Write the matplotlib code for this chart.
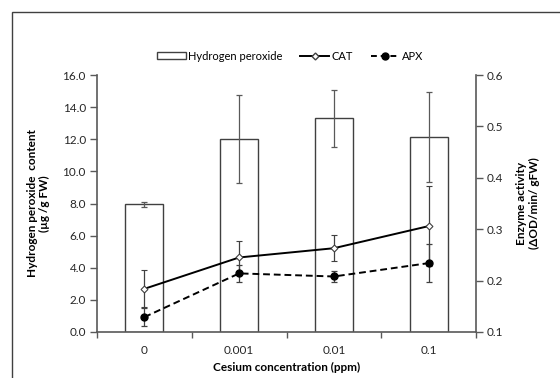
# Import modules
import numpy as np
import matplotlib.pyplot as plt
from matplotlib.patches import Rectangle
from matplotlib.lines import Line2D
from matplotlib.ticker import FormatStrFormatter, FixedLocator

plt.rcParams['font.family'] = ['Lato', 'DejaVu Sans']

# Data
concentrations = ['0', '0.001', '0.01', '0.1']
h2o2 = [7.95, 12.0, 13.3, 12.15]
h2o2_err = [0.15, 2.75, 1.78, 2.8]
cat = [0.184, 0.245, 0.263, 0.306]
cat_err = [0.036, 0.033, 0.025, 0.078]
apx = [0.129, 0.214, 0.208, 0.234]
apx_err = [0.018, 0.017, 0.011, 0.037]

axis_col = '#595959'
fs = 8
lfs = 8.5

fig = plt.figure(figsize=(5.6, 3.78), dpi=100)
ax = fig.add_axes([97/560, 1 - 332/378, 379/560, 257/378])
x = np.arange(len(concentrations))

# Bars (hydrogen peroxide)
ax.bar(x, h2o2, width=0.4, color='white', edgecolor='#404040', linewidth=1.0, zorder=2)
ax.errorbar(x, h2o2, yerr=h2o2_err, fmt='none', ecolor='#595959', elinewidth=0.9,
            capsize=2.5, capthick=0.9, zorder=3)

ax.set_xlim(-0.5, 3.5)
ax.set_ylim(0, 16)
ax.set_yticks(np.arange(0, 16.1, 2))
ax.yaxis.set_major_formatter(FormatStrFormatter('%.1f'))
ax.set_xticks(x)
ax.set_xticklabels(concentrations)
ax.xaxis.set_minor_locator(FixedLocator(np.arange(-0.5, 3.6, 1)))
ax.tick_params(axis='x', which='major', length=0, pad=9, labelsize=lfs, colors='#262626')
ax.tick_params(axis='x', which='minor', length=4, width=1, color=axis_col, direction='out')
ax.tick_params(axis='y', which='major', length=5, width=1, color=axis_col, labelsize=lfs,
               labelcolor='#262626', pad=3)
for s in ['top', 'right']:
    ax.spines[s].set_visible(False)
for s in ['left', 'bottom']:
    ax.spines[s].set_color(axis_col)
    ax.spines[s].set_linewidth(1.2)

ax.set_xlabel('Cesium concentration (ppm)', fontsize=lfs, fontweight='bold', labelpad=5)
ax.set_ylabel('Hydrogen peroxide  content\n(µg /g FW)', fontsize=lfs, fontweight='bold',
              labelpad=9, linespacing=1.15)

# Enzyme activity on the right axis
ax2 = ax.twinx()
ax2.errorbar(x, cat, yerr=cat_err, color='black', linewidth=1.4, marker='D', markersize=3.5,
             markerfacecolor='white', markeredgecolor='#404040', markeredgewidth=0.8,
             ecolor='#404040', elinewidth=0.9, capsize=2.5, capthick=0.9, zorder=4)
ax2.errorbar(x, apx, yerr=apx_err, color='black', linewidth=1.4, linestyle='--', marker='o',
             markersize=5, ecolor='#404040', elinewidth=0.9, capsize=2.5, capthick=0.9,
             dashes=(3.5, 2), zorder=4)
ax2.set_ylim(0.1, 0.6)
ax2.set_yticks(np.arange(0.1, 0.61, 0.1))
ax2.yaxis.set_major_formatter(FormatStrFormatter('%.1f'))
ax2.tick_params(axis='y', length=5, width=1, color=axis_col, labelsize=lfs,
                labelcolor='#262626', pad=3)
for s in ['top', 'left', 'bottom']:
    ax2.spines[s].set_visible(False)
ax2.spines['right'].set_color(axis_col)
ax2.spines['right'].set_linewidth(1.2)
ax2.set_ylabel('Enzyme activity\n(ΔOD/min/ gFW)', fontsize=lfs, fontweight='bold',
               labelpad=9, linespacing=1.15)

# Legend
handles = [Rectangle((0, 0), 1, 1, facecolor='white', edgecolor='#404040', linewidth=1.0),
           Line2D([], [], color='black', linewidth=1.4, marker='D', markersize=3.5,
                  markerfacecolor='white', markeredgecolor='#404040'),
           Line2D([], [], color='black', linewidth=1.4, linestyle='--', marker='o',
                  markersize=5, dashes=(3, 2))]
fig.legend(handles, ['Hydrogen peroxide', 'CAT', 'APX'], loc='center',
           bbox_to_anchor=(290/560, 1 - 56/378), ncol=3, frameon=False, fontsize=fs,
           handlelength=2.6, handleheight=0.6, handletextpad=0.2, columnspacing=1.6)

# Chart area border
fig.add_artist(Rectangle((12/560, -0.1), 1.2, 1 - 12/378 + 0.1, transform=fig.transFigure,
                         facecolor='none', edgecolor='#404040', linewidth=1.0))

plt.savefig('out.png', dpi=100)
